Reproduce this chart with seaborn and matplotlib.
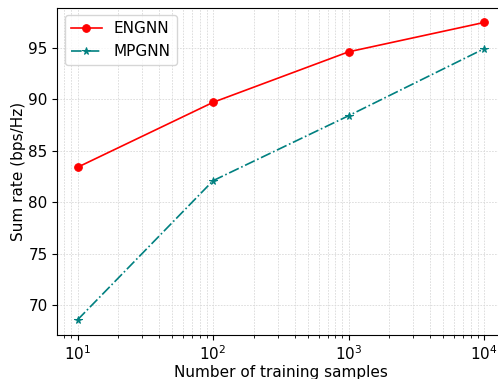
import matplotlib
matplotlib.use("Agg")
import matplotlib.pyplot as plt
import seaborn as sns
import pandas as pd

samples = [10, 100, 1000, 10000]
engnn = [83.4, 89.7, 94.6, 97.45]
mpgnn = [68.6, 82.1, 88.4, 94.9]

plt.rcParams['font.family'] = ['DejaVu Sans']

fig, ax = plt.subplots(figsize=(4.98, 3.79), dpi=100)
sns.lineplot(x=samples, y=engnn, color='red', marker='o', markersize=5.5,
             markeredgecolor='red', linestyle='-', linewidth=1.2, label='ENGNN', ax=ax)
sns.lineplot(x=samples, y=mpgnn, color='teal', marker='*', markersize=5.5,
             markeredgecolor='teal', linestyle='-.', linewidth=1.2, label='MPGNN', ax=ax)
ax.set_xscale('log')
ax.grid(True, which='both', linestyle=(0, (2, 1.5)), color='#d9d9d9', linewidth=0.6)
ax.set_xlabel('Number of training samples', fontsize=11, labelpad=1.5)
ax.set_ylabel('Sum rate (bps/Hz)', fontsize=11, labelpad=1.5)
ax.tick_params(labelsize=11)
ax.legend(loc='upper left', fontsize=11)
fig.subplots_adjust(left=0.115, right=1.013, top=0.980, bottom=0.117)
fig.savefig('out.png', dpi=100)
